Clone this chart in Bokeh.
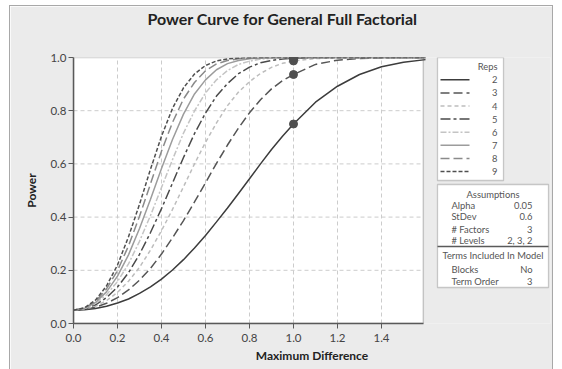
from bokeh.plotting import figure
from bokeh.models import Range1d, FixedTicker, BoxAnnotation, Title
from bokeh.core.properties import value
from bokeh.embed import file_html
from bokeh.resources import INLINE

# ---------------- data ----------------
max_difference = [0.0, 0.05, 0.1, 0.15, 0.2, 0.25, 0.3, 0.35, 0.4, 0.45, 0.5,
                  0.55, 0.6, 0.65, 0.7, 0.75, 0.8, 0.85, 0.9, 0.95, 1.0,
                  1.1, 1.2, 1.3, 1.4, 1.5, 1.6]

power_rep2 = [0.050, 0.052, 0.056, 0.065, 0.077, 0.092, 0.113, 0.138, 0.167, 0.201, 0.240,
              0.284, 0.331, 0.382, 0.434, 0.489, 0.544, 0.600, 0.654, 0.704, 0.750,
              0.832, 0.892, 0.936, 0.965, 0.982, 0.992]
power_rep3 = [0.050, 0.053, 0.061, 0.076, 0.097, 0.126, 0.163, 0.207, 0.261, 0.322, 0.387,
              0.457, 0.529, 0.602, 0.671, 0.735, 0.792, 0.841, 0.882, 0.913, 0.936,
              0.974, 0.990, 0.996, 0.999, 1.000, 1.000]
power_rep4 = [0.050, 0.054, 0.065, 0.086, 0.117, 0.159, 0.211, 0.276, 0.349, 0.429, 0.514,
              0.600, 0.681, 0.754, 0.819, 0.870, 0.909, 0.940, 0.963, 0.978, 0.987,
              0.996, 0.999, 1.000, 1.000, 1.000, 1.000]
power_rep5 = [0.050, 0.055, 0.070, 0.097, 0.137, 0.191, 0.260, 0.342, 0.432, 0.528, 0.624,
              0.714, 0.791, 0.855, 0.902, 0.939, 0.964, 0.980, 0.989, 0.994, 0.997,
              1.000, 1.000, 1.000, 1.000, 1.000, 1.000]
power_rep6 = [0.050, 0.056, 0.075, 0.108, 0.158, 0.224, 0.309, 0.406, 0.511, 0.616, 0.716,
              0.799, 0.867, 0.916, 0.951, 0.974, 0.986, 0.994, 0.997, 0.999, 1.000,
              1.000, 1.000, 1.000, 1.000, 1.000, 1.000]
power_rep7 = [0.050, 0.057, 0.079, 0.119, 0.178, 0.258, 0.357, 0.467, 0.583, 0.692, 0.787,
              0.863, 0.916, 0.954, 0.977, 0.989, 0.995, 0.998, 1.000, 1.000, 1.000,
              1.000, 1.000, 1.000, 1.000, 1.000, 1.000]
power_rep8 = [0.050, 0.058, 0.083, 0.130, 0.199, 0.292, 0.403, 0.525, 0.648, 0.756, 0.844,
              0.906, 0.950, 0.976, 0.989, 0.995, 0.998, 1.000, 1.000, 1.000, 1.000,
              1.000, 1.000, 1.000, 1.000, 1.000, 1.000]
power_rep9 = [0.050, 0.059, 0.088, 0.141, 0.220, 0.326, 0.448, 0.580, 0.704, 0.809, 0.886,
              0.938, 0.970, 0.987, 0.995, 0.998, 1.000, 1.000, 1.000, 1.000, 1.000,
              1.000, 1.000, 1.000, 1.000, 1.000, 1.000]

reps = [2, 3, 4, 5, 6, 7, 8, 9]
target_difference = 1.0
target_power = [0.750, 0.936, 0.987, 0.997, 1.000, 1.000, 1.000, 1.000]

x_ticks = [0.0, 0.2, 0.4, 0.6, 0.8, 1.0, 1.2, 1.4]
y_ticks = [0.0, 0.2, 0.4, 0.6, 0.8, 1.0]
x_max = 1.59

assumption_labels = ["Alpha", "StDev", "# Factors", "# Levels"]
assumption_values = ["0.05", "0.6", "3", "2, 3, 2"]
terms_labels = ["Blocks", "Term Order"]
terms_values = ["No", "3"]

# ---------------- styles ----------------
FONT = "Lato"
BG = "#ebebeb"
FRAME = "#5a5a5a"
series_power = [power_rep2, power_rep3, power_rep4, power_rep5,
                power_rep6, power_rep7, power_rep8, power_rep9]
line_colors = ["#3c3c3c", "#555555", "#bdbdbd", "#4a4a4a",
               "#c4c4c4", "#9c9c9c", "#8a8a8a", "#4f4f4f"]
line_dashes = ["solid", "9 4", "4 3", "10 3 3 3", "6 2 2 2", "solid", "9 4", "4 2"]

# frame spans page x 73..550, y 57..323 ; 220 px per x unit
X_END = (550 - 73) / 220.0


def px_x(px):
    return (px - 73.0) / 220.0


def px_y(py):
    return (323.0 - py) / 266.0


p = figure(width=542, height=363, x_range=Range1d(0, X_END), y_range=Range1d(0, 1.0),
           toolbar_location=None, output_backend="svg",
           min_border_left=63, min_border_right=2, min_border_top=51, min_border_bottom=46,
           margin=(6, 10, 0, 10))
p.styles = {"outline": "1px solid #a8a8a8", "outline-offset": "0px"}
p.title_location = None
p.background_fill_color = BG
p.border_fill_color = BG
p.outline_line_color = None
p.grid.visible = False

# title: a blank spacer next to the frame, then the real title above it
p.add_layout(Title(text=" ", text_font=FONT, text_font_size="10px", standoff=15), "above")
p.add_layout(Title(text="Power Curve for General Full Factorial", align="left", offset=74,
                   vertical_align="middle", standoff=0, text_font=FONT,
                   text_font_size="16px", text_font_style="bold", text_color="#222222"),
             "above")

# white plotting area
p.add_layout(BoxAnnotation(left=0, right=x_max, bottom=0, top=1.0, fill_color="white",
                           fill_alpha=1.0, line_color=None, level="image"))

# dashed grid
p.segment(x0=x_ticks[1:], y0=[0] * (len(x_ticks) - 1), x1=x_ticks[1:], y1=[1.0] * (len(x_ticks) - 1),
          line_color="#cccccc", line_dash="4 3", line_width=1, level="underlay")
p.segment(x0=[0] * (len(y_ticks) - 2), y0=y_ticks[1:-1], x1=[x_max] * (len(y_ticks) - 2), y1=y_ticks[1:-1],
          line_color="#cccccc", line_dash="4 3", line_width=1, level="underlay")

for ax in (p.xaxis, p.yaxis):
    ax.axis_line_color = FRAME
    ax.axis_line_width = 1.5
    ax.major_tick_line_color = FRAME
    ax.major_tick_out = 5
    ax.major_tick_in = 0
    ax.minor_tick_line_color = None
    ax.major_label_text_font = FONT
    ax.major_label_text_font_size = "11.5px"
    ax.major_label_text_color = "#444444"
    ax.axis_label_text_font = FONT
    ax.axis_label_text_font_size = "12px"
    ax.axis_label_text_font_style = "bold"
    ax.axis_label_text_color = "#222222"

p.xaxis.bounds = (0, x_max)
p.xaxis.ticker = FixedTicker(ticks=x_ticks)
p.yaxis.ticker = FixedTicker(ticks=y_ticks)
p.xaxis.major_label_overrides = {t: f"{t:.1f}" for t in x_ticks}
p.yaxis.major_label_overrides = {t: f"{t:.1f}" for t in y_ticks}
p.xaxis.axis_label = "Maximum Difference"
p.yaxis.axis_label = "Power"
p.xaxis.major_label_standoff = 5
p.yaxis.major_label_standoff = 2
p.xaxis.axis_label_standoff = 3
p.yaxis.axis_label_standoff = 8

for pw, col, dash in zip(series_power, line_colors, line_dashes):
    p.line(max_difference, pw, line_color=col, line_dash=dash, line_width=1.5)

p.scatter([target_difference] * len(reps), target_power, size=8,
          fill_color="#505050", line_color="#505050")

# plot frame border
p.add_layout(BoxAnnotation(left=0, right=x_max, bottom=0, top=1.0, fill_alpha=0,
                           line_color=FRAME, line_width=1.5))

# ---------------- legend & assumption tables ----------------
p.add_layout(BoxAnnotation(left=px_x(437), right=px_x(503), top=px_y(57), bottom=px_y(180),
                           fill_color="white", fill_alpha=1.0, line_color=FRAME,
                           line_width=1.3, level="underlay"))
p.add_layout(BoxAnnotation(left=px_x(437), right=px_x(548), top=px_y(184), bottom=px_y(287),
                           fill_color="white", fill_alpha=1.0, line_color=FRAME,
                           line_width=1.3, level="underlay"))
p.line([px_x(437), px_x(548)], [px_y(246), px_y(246)], line_color=FRAME, line_width=1.3)

txt = dict(text_font=value(FONT), text_font_size="9.4px", text_color="#555555",
           text_baseline="middle")
p.text([px_x(497)], [px_y(66)], text=["Reps"], text_align="right", **txt)
row_py = [79.3 + 13.1 * i for i in range(len(reps))]
for r, yy, col, dash in zip(reps, row_py, line_colors, line_dashes):
    p.line([px_x(440), px_x(469)], [px_y(yy), px_y(yy)], line_color=col, line_dash=dash,
           line_width=1.5)
p.text([px_x(497)] * len(reps), [px_y(v) for v in row_py], text=[str(r) for r in reps],
       text_align="right", **txt)

p.text([px_x(492.5)], [px_y(193.5)], text=["Assumptions"], text_align="center", **txt)
a_py = [204.5, 216, 228.5, 240]
p.text([px_x(451)] * 4, [px_y(v) for v in a_py], text=assumption_labels, text_align="left", **txt)
p.text([px_x(532)] * 4, [px_y(v) for v in a_py], text=assumption_values, text_align="right", **txt)
p.text([px_x(492.5)], [px_y(254.5)], text=["Terms Included In Model"], text_align="center", **txt)
t_py = [268.5, 280.5]
p.text([px_x(451)] * 2, [px_y(v) for v in t_py], text=terms_labels, text_align="left", **txt)
p.text([px_x(532)] * 2, [px_y(v) for v in t_py], text=terms_values, text_align="right", **txt)

open("out.html", "w").write(file_html(p, INLINE))
